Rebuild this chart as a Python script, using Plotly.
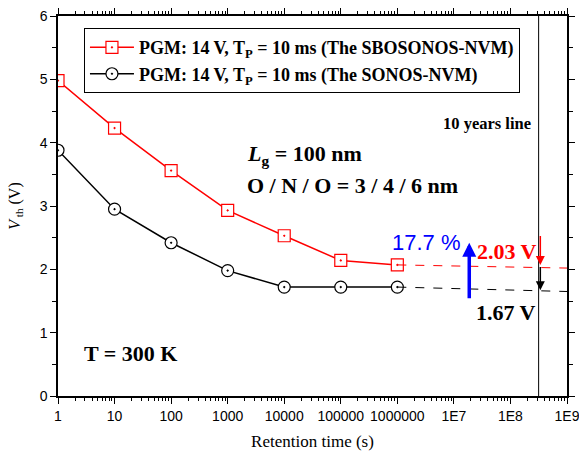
import numpy as np
import plotly.graph_objects as go

# ---- data ----
time_s = [1, 10, 100, 1000, 10000, 100000, 1000000]
vth_sbosonos = [4.98, 4.23, 3.56, 2.93, 2.53, 2.14, 2.07]
vth_sonos = [3.88, 2.95, 2.42, 1.98, 1.72, 1.72, 1.72]
ext_time = [1000000, 1e9]
ext_sbosonos = [2.07, 2.02]
ext_sonos = [1.72, 1.65]
ten_years_s = 3.15e8
vth_10y_sbosonos = 2.03
vth_10y_sonos = 1.67
diff_arrow_time = 1.87e7
diff_arrow_v = [1.52, 2.42]
x_tickvals = [1, 10, 100, 1000, 10000, 100000, 1000000, 1e7, 1e8, 1e9]
x_ticktext = ["1", "10", "100", "1000", "10000", "100000", "1000000", "1E7", "1E8", "1E9"]

serif = "Liberation Serif, Times New Roman, serif"
sans = "Liberation Sans, Arial, sans-serif"

x_minor = [m * 10 ** k for k in range(9) for m in range(2, 10)]

fig = go.Figure()
fig.add_trace(go.Scatter(
    x=time_s, y=vth_sbosonos, mode="lines+markers",
    name="<b>PGM: 14 V, T<sub>P</sub> = 10 ms (The SBOSONOS-NVM)</b>",
    line=dict(color="red", width=1.5),
    marker=dict(symbol="square-dot", size=12, color="white",
                line=dict(color="red", width=1.2)),
))
fig.add_trace(go.Scatter(
    x=time_s, y=vth_sonos, mode="lines+markers",
    name="<b>PGM: 14 V, T<sub>P</sub> = 10 ms (The SONOS-NVM)</b>",
    line=dict(color="black", width=1.5),
    marker=dict(symbol="circle-dot", size=12, color="white",
                line=dict(color="black", width=1.2)),
))
fig.add_trace(go.Scatter(x=ext_time, y=ext_sbosonos, mode="lines", showlegend=False,
                         line=dict(color="red", width=1, dash="dash")))
fig.add_trace(go.Scatter(x=ext_time, y=ext_sonos, mode="lines", showlegend=False,
                         line=dict(color="black", width=1, dash="dash")))
fig.add_trace(go.Scatter(x=[ten_years_s, ten_years_s], y=[0, 6], mode="lines",
                         showlegend=False, line=dict(color="black", width=1)))

lx = np.log10
annotations = [
    # arrows
    dict(x=lx(diff_arrow_time), y=diff_arrow_v[1], ax=lx(diff_arrow_time), ay=diff_arrow_v[0],
         xref="x", yref="y", axref="x", ayref="y", text="", showarrow=True,
         arrowhead=2, arrowsize=0.8, arrowwidth=3.5, arrowcolor="blue"),
    dict(x=lx(ten_years_s) + 0.03, y=2.07, ax=lx(ten_years_s) + 0.03, ay=2.55,
         xref="x", yref="y", axref="x", ayref="y", text="", showarrow=True,
         arrowhead=2, arrowsize=1.2, arrowwidth=1.5, arrowcolor="red"),
    dict(x=lx(ten_years_s) + 0.03, y=vth_10y_sonos, ax=lx(ten_years_s) + 0.03, ay=2.06,
         xref="x", yref="y", axref="x", ayref="y", text="", showarrow=True,
         arrowhead=2, arrowsize=1.2, arrowwidth=1.5, arrowcolor="black"),
    # texts
    dict(x=0.367, y=0.634, xref="paper", yref="paper", xanchor="left", yanchor="middle",
         text="<b><i>L</i><sub>g</sub> = 100 nm</b>", showarrow=False,
         font=dict(family=serif, size=22, color="black")),
    dict(x=0.367, y=0.555, xref="paper", yref="paper", xanchor="left", yanchor="middle",
         text="<b>O / N / O = 3 / 4 / 6 nm</b>", showarrow=False,
         font=dict(family=serif, size=22, color="black")),
    dict(x=0.047, y=0.113, xref="paper", yref="paper", xanchor="left", yanchor="middle",
         text="<b>T = 300 K</b>", showarrow=False,
         font=dict(family=serif, size=22, color="black")),
    dict(x=0.934, y=0.718, xref="paper", yref="paper", xanchor="right", yanchor="middle",
         text="<b>10 years line</b>", showarrow=False,
         font=dict(family=serif, size=16.5, color="black")),
    dict(x=0.724, y=0.405, xref="paper", yref="paper", xanchor="center", yanchor="middle",
         text="17.7 %", showarrow=False,
         font=dict(family=sans, size=22, color="blue")),
    dict(x=0.819, y=0.381, xref="paper", yref="paper", xanchor="left", yanchor="middle",
         text="<b>%.2f V</b>" % vth_10y_sbosonos, showarrow=False,
         font=dict(family=serif, size=22, color="red")),
    dict(x=0.817, y=0.221, xref="paper", yref="paper", xanchor="left", yanchor="middle",
         text="<b>%.2f V</b>" % vth_10y_sonos, showarrow=False,
         font=dict(family=serif, size=22, color="black")),
]

fig.update_layout(
    width=579, height=451,
    margin=dict(l=58, r=12, t=16, b=55, autoexpand=False),
    paper_bgcolor="white", plot_bgcolor="white",
    showlegend=True,
    legend=dict(x=0.051, y=0.968, xanchor="left", yanchor="top",
                bordercolor="black", borderwidth=1, bgcolor="white",
                font=dict(family=serif, size=18, color="black"),
                itemwidth=44, tracegroupgap=0),
    annotations=annotations,
)
fig.update_xaxes(
    type="log", range=[0, 9], automargin=False,
    tickmode="array", tickvals=x_tickvals, ticktext=x_ticktext,
    ticklabeloverflow="allow",
    ticks="outside", ticklen=6, tickwidth=1, tickcolor="black",
    minor=dict(tickmode="array", tickvals=x_minor, ticks="outside", ticklen=3,
               tickcolor="black", showgrid=False),
    showline=True, linecolor="black", linewidth=1.5, mirror="allticks",
    showgrid=False, zeroline=False,
    tickfont=dict(family=sans, size=14, color="black"),
    title=dict(text="Retention time (s)", font=dict(family=serif, size=17, color="black")),
)
fig.update_yaxes(
    range=[0, 6], dtick=1, tick0=0, automargin=False,
    ticks="outside", ticklen=6, tickwidth=1, tickcolor="black",
    minor=dict(dtick=0.5, ticks="outside", ticklen=4, tickcolor="black", showgrid=False),
    showline=True, linecolor="black", linewidth=1.5, mirror="allticks",
    showgrid=False, zeroline=False,
    tickfont=dict(family=sans, size=14, color="black"),
    title=dict(text="<i>V</i><sub> th</sub> (V)", font=dict(family=serif, size=16, color="black")),
)

fig.write_html("out.html", config={"displayModeBar": False},
               post_script="document.body.style.margin='0';")
